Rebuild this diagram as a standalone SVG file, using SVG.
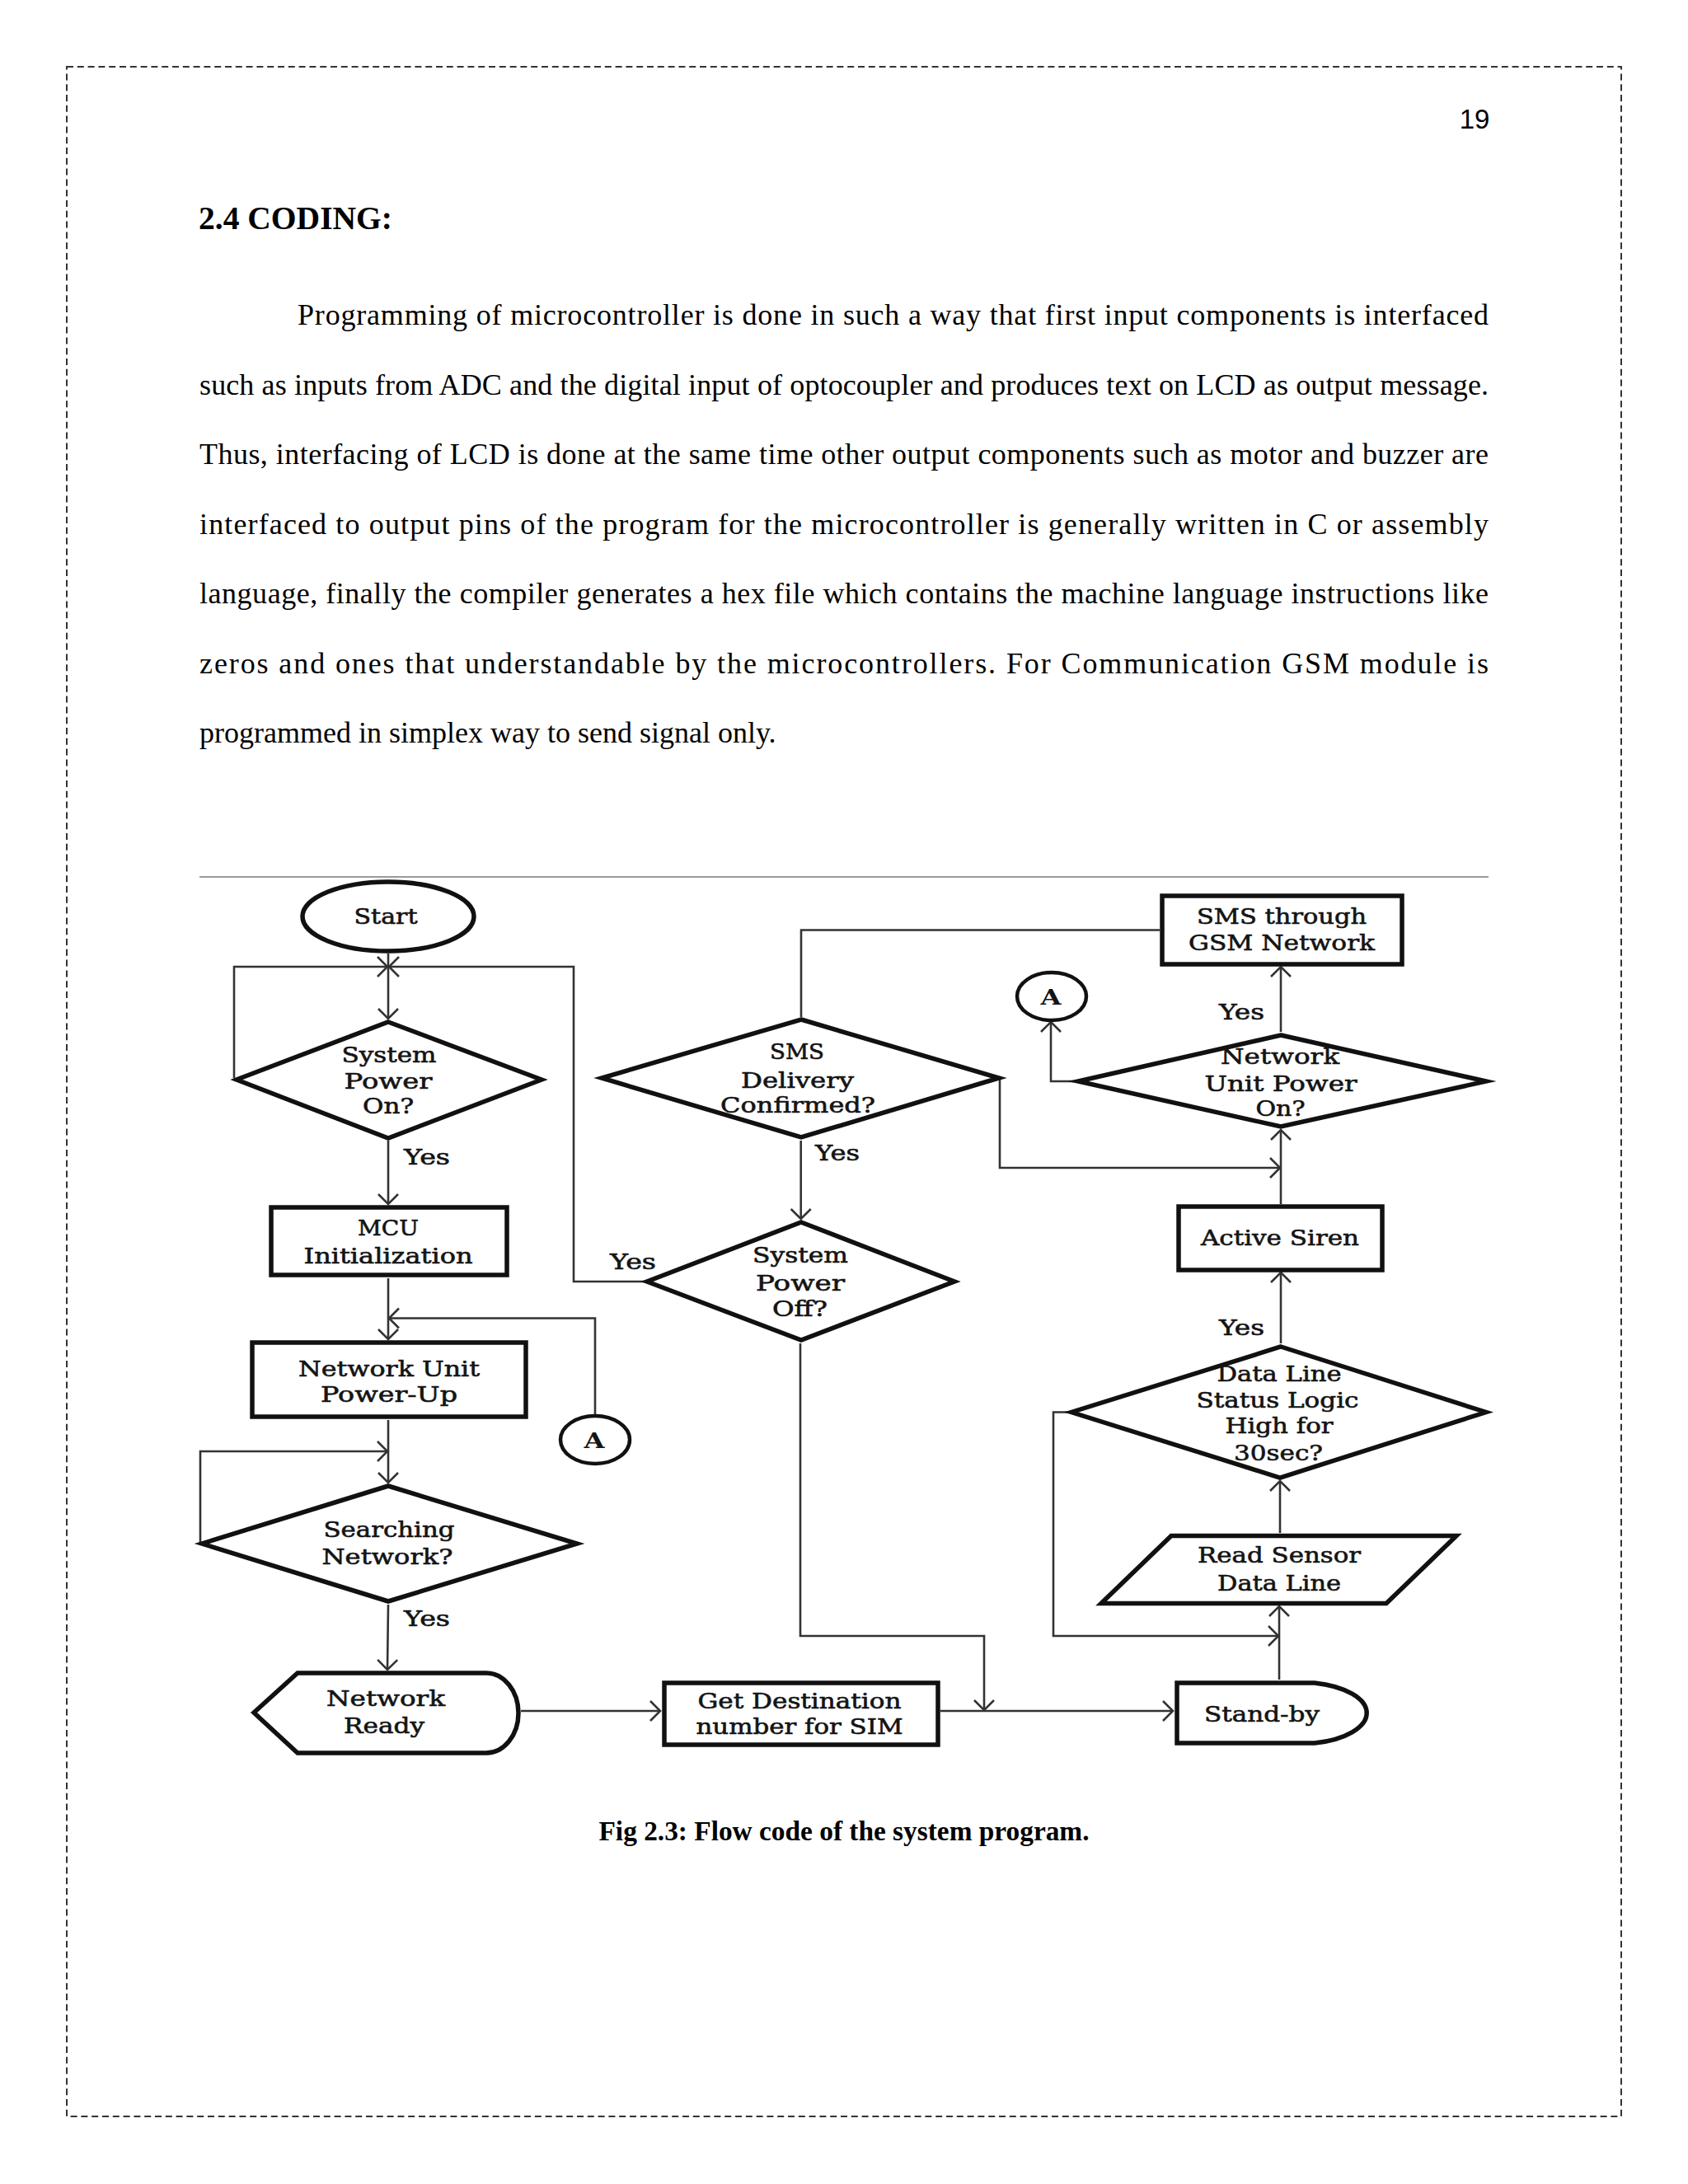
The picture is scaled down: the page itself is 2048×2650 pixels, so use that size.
<svg xmlns="http://www.w3.org/2000/svg" width="2048" height="2650" viewBox="0 0 2048 2650">
  <style>
    .page { fill: none; stroke: #333; stroke-width: 2; stroke-dasharray: 8 4.8; }
    .body { font-family: "Liberation Serif", "Times New Roman", serif; font-size: 36px; fill: #000; }
    .head { font-family: "Liberation Serif", "Times New Roman", serif; font-size: 39px; font-weight: bold; fill: #000; }
    .cap { font-family: "Liberation Serif", "Times New Roman", serif; font-size: 33px; font-weight: bold; fill: #000; }
    .pno { font-family: "Liberation Sans", Arial, sans-serif; font-size: 33px; fill: #000; }
    .shape { fill: #fff; stroke: #111; stroke-width: 5.5; stroke-linejoin: miter; stroke-miterlimit: 10; }
    .conn { fill: none; stroke: #333; stroke-width: 2.6; }
    .arrow { marker-end: url(#arr); }
    .lbl { font-family: "DejaVu Serif", "Liberation Serif", serif; font-size: 26px; fill: #141414; stroke: #141414; stroke-width: 0.6; text-anchor: middle; }
    .yes { font-family: "DejaVu Serif", "Liberation Serif", serif; font-size: 26px; fill: #141414; stroke: #141414; stroke-width: 0.6; }
    .conA { font-family: "DejaVu Serif", "Liberation Serif", serif; font-size: 26px; font-weight: bold; fill: #141414; text-anchor: middle; }
  </style>
  <defs>
    <marker id="arr" markerUnits="userSpaceOnUse" viewBox="-15 -15 18 30" refX="0" refY="0" markerWidth="18" markerHeight="30" orient="auto">
      <path d="M-12,-12 L0,0 L-12,12" fill="none" stroke="#333" stroke-width="2.6"/>
    </marker>
  </defs>
  <rect width="2048" height="2650" fill="#fff"/>

  <!-- page frame and text -->
  <rect class="page" x="81" y="81" width="1886" height="2487"/>
  <text class="pno" x="1789" y="156" text-anchor="middle">19</text>
  <text class="head" x="241" y="278" textLength="235" lengthAdjust="spacingAndGlyphs">2.4 CODING:</text>
  <g class="body">
    <text x="361" y="394" textLength="1445" lengthAdjust="spacing">Programming of microcontroller is done in such a way that first input components is interfaced</text>
    <text x="242" y="478.5" textLength="1564" lengthAdjust="spacing">such as inputs from ADC and the digital input of optocoupler and produces text on LCD as output message.</text>
    <text x="242" y="563" textLength="1564" lengthAdjust="spacing">Thus, interfacing of LCD is done at the same time other output components such as motor and buzzer are</text>
    <text x="242" y="647.5" textLength="1564" lengthAdjust="spacing">interfaced to output pins of the program for the microcontroller is generally written in C or assembly</text>
    <text x="242" y="732" textLength="1564" lengthAdjust="spacing">language, finally the compiler generates a hex file which contains the machine language instructions like</text>
    <text x="242" y="816.5" textLength="1564" lengthAdjust="spacing">zeros and ones that understandable by the microcontrollers. For Communication GSM module is</text>
    <text x="242" y="901">programmed in simplex way to send signal only.</text>
  </g>
  <line x1="242" y1="1064" x2="1806" y2="1064" stroke="#9a9a9a" stroke-width="2"/>
  <text class="cap" x="1024" y="2233" text-anchor="middle" textLength="595" lengthAdjust="spacingAndGlyphs">Fig 2.3: Flow code of the system program.</text>

  <!-- connectors -->
  <g id="connectors">
    <path class="conn arrow" d="M471,1157 V1236"/>
    <path class="conn arrow" d="M284,1308 V1173 H470"/>
    <path class="conn arrow" d="M782,1555 H696 V1173 H472"/>
    <path class="conn arrow" d="M471,1384 V1461"/>
    <path class="conn arrow" d="M471,1551 V1625"/>
    <path class="conn arrow" d="M722,1716 V1599.5 H472"/>
    <path class="conn arrow" d="M471,1723 V1799"/>
    <path class="conn arrow" d="M243,1871 V1761 H470"/>
    <path class="conn arrow" d="M471,1947 L470,2026"/>
    <path class="conn arrow" d="M632,2076 H801"/>
    <path class="conn arrow" d="M1141,2076 H1423"/>
    <path class="conn arrow" d="M971,1630 V1985 H1194 V2075"/>
    <path class="conn arrow" d="M1552,2038 V1949"/>
    <path class="conn arrow" d="M1297,1713.5 H1278 V1985 H1551"/>
    <path class="conn arrow" d="M1553,1860 V1797"/>
    <path class="conn arrow" d="M1554,1630 V1544"/>
    <path class="conn arrow" d="M1554,1461 V1371"/>
    <path class="conn arrow" d="M1213,1310 V1417 H1553"/>
    <path class="conn arrow" d="M1305,1312 H1275 V1240"/>
    <path class="conn arrow" d="M1554,1252 V1173"/>
    <path class="conn" d="M1407,1128.5 H972 V1234"/>
    <path class="conn arrow" d="M971.7,1384 V1479"/>
  </g>

  <!-- nodes -->
  <g id="start">
    <ellipse class="shape" cx="471" cy="1112" rx="104" ry="42"/>
    <text class="lbl" x="468" y="1121" textLength="77" lengthAdjust="spacingAndGlyphs">Start</text>
  </g>
  <g id="system-power-on">
    <polygon class="shape" points="471,1240 657,1310 471,1381 287,1310"/>
    <text class="lbl" x="472" y="1289" textLength="115" lengthAdjust="spacingAndGlyphs">System</text>
    <text class="lbl" x="471" y="1321" textLength="107" lengthAdjust="spacingAndGlyphs">Power</text>
    <text class="lbl" x="471" y="1351" textLength="62" lengthAdjust="spacingAndGlyphs">On?</text>
    <text class="yes" x="490" y="1413" textLength="56" lengthAdjust="spacingAndGlyphs">Yes</text>
  </g>
  <g id="mcu-init">
    <rect class="shape" x="329" y="1465" width="286" height="82"/>
    <text class="lbl" x="471" y="1499" textLength="74" lengthAdjust="spacingAndGlyphs">MCU</text>
    <text class="lbl" x="471" y="1533" textLength="205" lengthAdjust="spacingAndGlyphs">Initialization</text>
  </g>
  <g id="network-unit-powerup">
    <rect class="shape" x="306" y="1629" width="332" height="90"/>
    <text class="lbl" x="472" y="1670" textLength="220" lengthAdjust="spacingAndGlyphs">Network Unit</text>
    <text class="lbl" x="472" y="1701" textLength="166" lengthAdjust="spacingAndGlyphs">Power-Up</text>
  </g>
  <g id="connector-a-left">
    <ellipse class="shape" cx="722" cy="1747" rx="42" ry="29" style="stroke-width:4.5"/>
    <text class="conA" x="721" y="1757" textLength="25" lengthAdjust="spacingAndGlyphs">A</text>
  </g>
  <g id="searching-network">
    <polygon class="shape" points="471,1803 700,1873 471,1943 245,1873"/>
    <text class="lbl" x="472" y="1865" textLength="159" lengthAdjust="spacingAndGlyphs">Searching</text>
    <text class="lbl" x="470" y="1898" textLength="159" lengthAdjust="spacingAndGlyphs">Network?</text>
    <text class="yes" x="490" y="1973" textLength="56" lengthAdjust="spacingAndGlyphs">Yes</text>
  </g>
  <g id="network-ready">
    <path class="shape" d="M308,2078 L361,2030 L590,2030 A39,48.5 0 0 1 590,2127 L361,2127 Z"/>
    <text class="lbl" x="468" y="2070" textLength="144" lengthAdjust="spacingAndGlyphs">Network</text>
    <text class="lbl" x="466" y="2103" textLength="98" lengthAdjust="spacingAndGlyphs">Ready</text>
  </g>
  <g id="get-destination">
    <rect class="shape" x="806" y="2042" width="332" height="75"/>
    <text class="lbl" x="970" y="2073" textLength="247" lengthAdjust="spacingAndGlyphs">Get Destination</text>
    <text class="lbl" x="970" y="2104" textLength="251" lengthAdjust="spacingAndGlyphs">number for SIM</text>
  </g>
  <g id="sms-delivery-confirmed">
    <polygon class="shape" points="972,1237 1212,1308 972,1380 730,1308"/>
    <text class="lbl" x="967" y="1285" textLength="66" lengthAdjust="spacingAndGlyphs">SMS</text>
    <text class="lbl" x="967.5" y="1320" textLength="137" lengthAdjust="spacingAndGlyphs">Delivery</text>
    <text class="lbl" x="968" y="1350" textLength="188" lengthAdjust="spacingAndGlyphs">Confirmed?</text>
    <text class="yes" x="989" y="1408" textLength="54" lengthAdjust="spacingAndGlyphs">Yes</text>
  </g>
  <g id="system-power-off">
    <polygon class="shape" points="972,1483 1158,1555 972,1626 785,1555"/>
    <text class="lbl" x="971" y="1532" textLength="116" lengthAdjust="spacingAndGlyphs">System</text>
    <text class="lbl" x="971" y="1566" textLength="108" lengthAdjust="spacingAndGlyphs">Power</text>
    <text class="lbl" x="970.5" y="1597" textLength="67" lengthAdjust="spacingAndGlyphs">Off?</text>
    <text class="yes" x="740" y="1540" textLength="56" lengthAdjust="spacingAndGlyphs">Yes</text>
  </g>
  <g id="sms-through-gsm">
    <rect class="shape" x="1410" y="1087" width="291" height="83"/>
    <text class="lbl" x="1555" y="1121" textLength="206" lengthAdjust="spacingAndGlyphs">SMS through</text>
    <text class="lbl" x="1555" y="1153" textLength="226" lengthAdjust="spacingAndGlyphs">GSM Network</text>
  </g>
  <g id="connector-a-right">
    <ellipse class="shape" cx="1276" cy="1209" rx="42" ry="29" style="stroke-width:4.5"/>
    <text class="conA" x="1275" y="1219" textLength="25" lengthAdjust="spacingAndGlyphs">A</text>
  </g>
  <g id="network-unit-power-on">
    <polygon class="shape" points="1554,1256 1803,1312 1554,1367 1308,1312"/>
    <text class="lbl" x="1553" y="1291" textLength="144" lengthAdjust="spacingAndGlyphs">Network</text>
    <text class="lbl" x="1554" y="1323.5" textLength="185" lengthAdjust="spacingAndGlyphs">Unit Power</text>
    <text class="lbl" x="1553.5" y="1354" textLength="60" lengthAdjust="spacingAndGlyphs">On?</text>
    <text class="yes" x="1479" y="1237" textLength="55" lengthAdjust="spacingAndGlyphs">Yes</text>
  </g>
  <g id="active-siren">
    <rect class="shape" x="1430" y="1464" width="247" height="77"/>
    <text class="lbl" x="1553" y="1511" textLength="192" lengthAdjust="spacingAndGlyphs">Active Siren</text>
  </g>
  <g id="data-line-status">
    <polygon class="shape" points="1554,1634 1803,1713.5 1553,1793 1300,1713.5"/>
    <text class="lbl" x="1552" y="1676" textLength="151" lengthAdjust="spacingAndGlyphs">Data Line</text>
    <text class="lbl" x="1550" y="1708" textLength="197" lengthAdjust="spacingAndGlyphs">Status Logic</text>
    <text class="lbl" x="1552" y="1739" textLength="131" lengthAdjust="spacingAndGlyphs">High for</text>
    <text class="lbl" x="1551" y="1771.5" textLength="108" lengthAdjust="spacingAndGlyphs">30sec?</text>
    <text class="yes" x="1479" y="1620" textLength="55" lengthAdjust="spacingAndGlyphs">Yes</text>
  </g>
  <g id="read-sensor">
    <polygon class="shape" points="1421,1863.5 1767,1863.5 1682,1945.5 1336,1945.5"/>
    <text class="lbl" x="1552" y="1896" textLength="198" lengthAdjust="spacingAndGlyphs">Read Sensor</text>
    <text class="lbl" x="1552" y="1930" textLength="150" lengthAdjust="spacingAndGlyphs">Data Line</text>
  </g>
  <g id="stand-by">
    <path class="shape" d="M1428,2042 L1595,2042 A82,37.5 0 0 1 1595,2115 L1428,2115 Z"/>
    <text class="lbl" x="1531" y="2089" textLength="140" lengthAdjust="spacingAndGlyphs">Stand-by</text>
  </g>
</svg>
